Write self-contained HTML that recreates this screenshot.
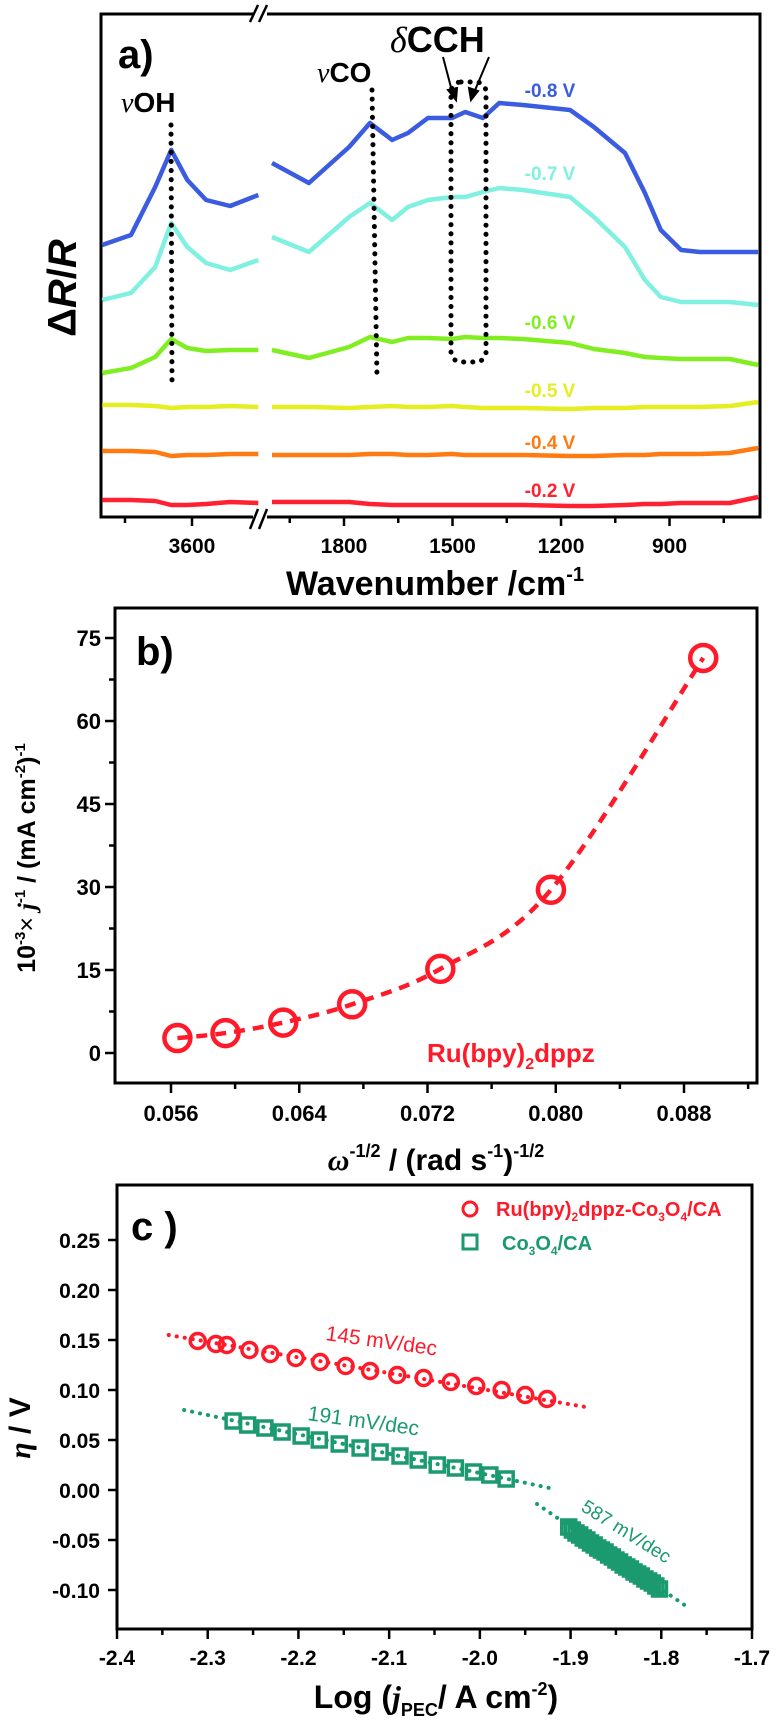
<!DOCTYPE html>
<html><head><meta charset="utf-8"><style>
html,body{margin:0;padding:0;background:#fff;}
svg{display:block;font-family:"Liberation Sans",sans-serif;font-weight:bold;}
.nar{font-family:"Liberation Sans Narrow","Liberation Sans",sans-serif;}
</style></head><body>
<svg id="fig" width="778" height="1720" viewBox="0 0 778 1720" xmlns="http://www.w3.org/2000/svg">
<g id="pa">
<rect x="101" y="14" width="659" height="503" fill="none" stroke="#000" stroke-width="3"/>
<rect x="253" y="8" width="14" height="12" fill="#fff"/>
<rect x="253" y="511" width="14" height="12" fill="#fff"/>
<g stroke="#000" stroke-width="2.5">
<line x1="250" y1="22" x2="258" y2="5"/><line x1="259" y1="22" x2="267" y2="5"/>
<line x1="250" y1="529" x2="258" y2="509"/><line x1="259" y1="529" x2="267" y2="509"/>
</g>
<g id="pa-ticks"></g>
<text x="118" y="68" font-size="40">a)</text>
<text x="65" y="288" font-size="40" text-anchor="middle" transform="rotate(-90 65 288)" dominant-baseline="middle">Δ<tspan font-style="italic">R</tspan>/<tspan font-style="italic">R</tspan></text>
<text x="435" y="595" font-size="34" text-anchor="middle" class="nar">Wavenumber /cm<tspan dy="-14" font-size="20">-1</tspan></text>
<text x="121" y="112" font-size="28"><tspan font-family="Liberation Serif" font-style="italic" font-weight="normal">ν</tspan>OH</text>
<text x="317" y="82" font-size="28"><tspan font-family="Liberation Serif" font-style="italic" font-weight="normal">ν</tspan>CO</text>
<text x="390" y="52" font-size="36"><tspan font-family="Liberation Serif" font-style="italic" font-weight="normal">δ</tspan>CCH</text>
<g id="pa-traces"></g>
<g fill="none" stroke="#000" stroke-width="5" stroke-dasharray="0.1 9" stroke-linecap="round">
<line x1="171" y1="125" x2="172" y2="380"/>
<line x1="372" y1="90" x2="377" y2="378"/>
<rect x="451" y="82" width="35" height="280" rx="10"/>
</g>
<g stroke="#000" stroke-width="2">
<line x1="443" y1="57" x2="453" y2="95"/><polygon points="448,90 456,100 457,88"/>
<line x1="489" y1="57" x2="473" y2="95"/><polygon points="469,88 471,100 478,91"/>
</g>
<g font-size="19" class="nar" text-anchor="middle">
<text x="550" y="97" fill="#3b5be0">-0.8 V</text>
<text x="550" y="180" fill="#80f0e0">-0.7 V</text>
<text x="550" y="329" fill="#80ee20">-0.6 V</text>
<text x="550" y="397" fill="#e5ee20">-0.5 V</text>
<text x="550" y="449" fill="#ff7a10">-0.4 V</text>
<text x="550" y="497" fill="#ff2030">-0.2 V</text>
</g>
</g>
<g id="pb">
<rect x="115" y="608" width="642" height="475" fill="none" stroke="#000" stroke-width="3"/>
<g id="pb-ticks"></g>
<text x="136" y="665" font-size="40">b)</text>
<text x="35" y="858" font-size="25" text-anchor="middle" transform="rotate(-90 35 858)">10<tspan dy="-10" font-size="15">-3</tspan><tspan dy="10" font-weight="normal">×</tspan> <tspan font-family="Liberation Serif" font-style="italic">j</tspan><tspan dy="-10" font-size="15">-1</tspan><tspan dy="10"> / (mA cm</tspan><tspan dy="-10" font-size="15">-2</tspan><tspan dy="10">)</tspan><tspan dy="-10" font-size="15">-1</tspan></text>
<text x="436" y="1170" font-size="30" text-anchor="middle" class="nar"><tspan font-family="Liberation Serif" font-style="italic">ω</tspan><tspan dy="-13" font-size="18">-1/2</tspan><tspan dy="13"> / (rad s</tspan><tspan dy="-13" font-size="18">-1</tspan><tspan dy="13">)</tspan><tspan dy="-13" font-size="18">-1/2</tspan></text>
<text x="427" y="1062" font-size="26" fill="#ff1a2a" class="nar">Ru(bpy)<tspan dy="7" font-size="16">2</tspan><tspan dy="-7">dppz</tspan></text>
<g id="pb-data"></g>
</g>
<g id="pc">
<rect x="117" y="1185" width="635" height="444" fill="none" stroke="#000" stroke-width="3"/>
<g id="pc-ticks"></g>
<text x="131" y="1240" font-size="40">c )</text>
<text x="30" y="1428" font-size="30" text-anchor="middle" transform="rotate(-90 30 1428)"><tspan font-family="Liberation Serif" font-style="italic">η</tspan> / V</text>
<text x="436" y="1708" font-size="32" text-anchor="middle" class="nar">Log (<tspan font-family="Liberation Serif" font-style="italic">j</tspan><tspan dy="8" font-size="18">PEC</tspan><tspan dy="-8">/ A cm</tspan><tspan dy="-13" font-size="18">-2</tspan><tspan dy="13">)</tspan></text>
<g>
<circle cx="470" cy="1209" r="7" fill="none" stroke="#ff1a2a" stroke-width="3"/>
<text x="496" y="1216" font-size="20" fill="#ff1a2a" class="nar">Ru(bpy)<tspan dy="5" font-size="12">2</tspan><tspan dy="-5">dppz-Co</tspan><tspan dy="5" font-size="12">3</tspan><tspan dy="-5">O</tspan><tspan dy="5" font-size="12">4</tspan><tspan dy="-5">/CA</tspan></text>
<rect x="463" y="1235" width="14" height="14" fill="none" stroke="#1a9a6e" stroke-width="3"/>
<text x="502" y="1250" font-size="20" fill="#1a9a6e" class="nar">Co<tspan dy="5" font-size="12">3</tspan><tspan dy="-5">O</tspan><tspan dy="5" font-size="12">4</tspan><tspan dy="-5">/CA</tspan></text>
</g>
<text x="325" y="1340" font-size="21" fill="#ff1a2a" class="nar" font-weight="normal" transform="rotate(8 325 1340)">145 mV/dec</text>
<text x="307" y="1420" font-size="21" fill="#1a9a6e" class="nar" font-weight="normal" transform="rotate(8 307 1420)">191 mV/dec</text>
<text x="580" y="1510" font-size="19" fill="#1a9a6e" class="nar" font-weight="normal" transform="rotate(32 580 1510)">587 mV/dec</text>
<g id="pc-data"></g>
</g>
</svg>
<script>
// ===== Panel a data =====
const aLeftW = [3734, 3691, 3655, 3631, 3607, 3579, 3543, 3501];
const aRightW = [1999, 1897, 1786, 1728, 1667, 1623, 1568, 1501, 1465, 1416, 1371, 1305, 1175, 1109, 1023, 968, 924, 868, 816, 733, 655];
const blueLeft = [272, 282, 330, 367, 337, 317, 311, 322];
const blueRight = [354, 334, 370, 394, 377, 384, 399, 399, 405, 399, 414, 412, 407, 390, 364, 324, 287, 267, 265, 265, 265];
const cyanLeft = [217, 224, 250, 294, 270, 254, 247, 257];
const cyanRight = [280, 265, 300, 314, 297, 310, 317, 320, 320, 325, 329, 327, 320, 300, 270, 237, 220, 215, 215, 215, 212];
const greenLeft = [144, 149, 160, 178, 169, 166, 167, 167];
const greenRight = [167, 159, 170, 180, 175, 179, 179, 178, 180, 179, 179, 178, 174, 168, 164, 160, 159, 158, 158, 158, 152];
const yellowLeft = [112, 112, 111, 109, 110, 110, 111, 110];
const yellowRight = [110, 110, 109, 110, 111, 110, 110, 111, 110, 109, 109, 109, 108, 109, 109, 110, 110, 110, 110, 111, 115];
const orangeLeft = [66, 66, 65, 61, 62, 62, 63, 63];
const orangeRight = [62, 62, 62, 63, 63, 62, 62, 63, 62, 62, 62, 62, 61, 61, 62, 62, 63, 63, 63, 64, 69];
const redLeft = [17, 17, 16, 12, 12, 13, 15, 14];
const redRight = [15, 15, 15, 13, 12, 12, 12, 12, 12, 12, 12, 12, 11, 11, 12, 13, 13, 14, 14, 14, 20];
const aMajorTicks = [3600, 1800, 1500, 1200, 900];
const aMinorTicks = [3700, 1950, 1650, 1350, 1050, 750];
// ===== Panel b data =====
const bX = [0.0564, 0.0594, 0.0630, 0.0673, 0.0728, 0.0797, 0.0892];
const bY = [2.7, 3.6, 5.5, 8.8, 15.2, 29.5, 71.4];
const bXTicks = [0.056, 0.064, 0.072, 0.080, 0.088];
const bXTickLabels = ["0.056", "0.064", "0.072", "0.080", "0.088"];
const bYTicks = [0, 15, 30, 45, 60, 75];
// ===== Panel c data =====
const cRuX = [-2.311, -2.291, -2.279, -2.254, -2.231, -2.203, -2.176, -2.148, -2.121, -2.091, -2.062, -2.032, -2.004, -1.976, -1.950, -1.926];
const cRuY = [0.149, 0.146, 0.145, 0.140, 0.136, 0.132, 0.128, 0.124, 0.119, 0.115, 0.112, 0.108, 0.104, 0.100, 0.095, 0.091];
const cRuFitX = [-2.343, -1.877];
const cRuFitY = [0.155, 0.082];
const cCoX = [-2.272, -2.256, -2.237, -2.218, -2.197, -2.177, -2.155, -2.132, -2.110, -2.088, -2.068, -2.047, -2.027, -2.007, -1.989, -1.971];
const cCoY = [0.069, 0.065, 0.062, 0.058, 0.054, 0.050, 0.046, 0.042, 0.038, 0.034, 0.030, 0.025, 0.022, 0.018, 0.015, 0.011];
const cCo2X = [-1.902, -1.898, -1.894, -1.890, -1.886, -1.882, -1.878, -1.874, -1.870, -1.866, -1.862, -1.858, -1.854, -1.850, -1.846, -1.842, -1.838, -1.834, -1.830, -1.826, -1.822, -1.818, -1.814, -1.810, -1.806, -1.802];
const cCo2Y = [-0.037, -0.040, -0.043, -0.045, -0.048, -0.050, -0.053, -0.055, -0.058, -0.060, -0.062, -0.065, -0.067, -0.070, -0.072, -0.075, -0.077, -0.079, -0.082, -0.084, -0.086, -0.089, -0.091, -0.093, -0.096, -0.099];
const cCoFitX = [-2.326, -1.918];
const cCoFitY = [0.080, 0.001];
const cCo2FitX = [-1.937, -1.768];
const cCo2FitY = [-0.014, -0.119];
const cXTicks = [-2.4, -2.3, -2.2, -2.1, -2.0, -1.9, -1.8, -1.7];
const cXTickLabels = ["-2.4", "-2.3", "-2.2", "-2.1", "-2.0", "-1.9", "-1.8", "-1.7"];
const cYTicks = [-0.10, -0.05, 0.00, 0.05, 0.10, 0.15, 0.20, 0.25];
const cYTickLabels = ["-0.10", "-0.05", "0.00", "0.05", "0.10", "0.15", "0.20", "0.25"];

const NS = "http://www.w3.org/2000/svg";
function mk(tag, attrs, parent) {
  const e = document.createElementNS(NS, tag);
  for (const k in attrs) e.setAttribute(k, attrs[k]);
  parent.appendChild(e);
  return e;
}
function xaL(w) { return 192 + (3600 - w) * 0.67; }
function xaR(w) { return 344 + (1800 - w) * 0.3617; }
function xa(w) { return w > 2500 ? xaL(w) : xaR(w); }
function ya(v) { return 517 - v; }
function xb(v) { return 171 + (v - 0.056) / 0.032 * 513; }
function yb(v) { return 1053 - v * 5.533; }
function xc(v) { return 117 + (v + 2.4) / 0.7 * 635; }
function yc(v) { return 1590 - (v + 0.10) * 1000; }

const paT = document.getElementById('pa-traces');
const traces = [
  ['trace-minus-0.2v', '#ff2030', redLeft, redRight],
  ['trace-minus-0.4v', '#ff7a10', orangeLeft, orangeRight],
  ['trace-minus-0.5v', '#e5ee20', yellowLeft, yellowRight],
  ['trace-minus-0.6v', '#80ee20', greenLeft, greenRight],
  ['trace-minus-0.7v', '#80f0e0', cyanLeft, cyanRight],
  ['trace-minus-0.8v', '#3b5be0', blueLeft, blueRight]
];
traces.forEach(t => {
  const d1 = aLeftW.map((w, i) => (i ? 'L' : 'M') + xaL(w).toFixed(1) + ' ' + ya(t[2][i]).toFixed(1)).join(' ');
  const p1 = mk('path', {d: d1, fill: 'none', stroke: t[1], 'stroke-width': 4.5, 'stroke-linejoin': 'round'}, paT);
  
  
  const d2 = aRightW.map((w, i) => (i ? 'L' : 'M') + xaR(w).toFixed(1) + ' ' + ya(t[3][i]).toFixed(1)).join(' ');
  const p2 = mk('path', {d: d2, fill: 'none', stroke: t[1], 'stroke-width': 4.5, 'stroke-linejoin': 'round'}, paT);
  
  
});
const paK = document.getElementById('pa-ticks');
aMajorTicks.forEach(w => {
  const x = xa(w);
  const l = mk('line', {x1: x, y1: 517, x2: x, y2: 526, stroke: '#000', 'stroke-width': 2.5}, paK);
  
  
  const t = mk('text', {x: x, y: 553, 'font-size': 21, 'text-anchor': 'middle', class: 'nar'}, paK);
  t.textContent = String(w);
  
  
});
aMinorTicks.forEach(w => {
  const x = xa(w);
  const l = mk('line', {x1: x, y1: 517, x2: x, y2: 523, stroke: '#000', 'stroke-width': 2.5}, paK);
  
  
});

const pbK = document.getElementById('pb-ticks');
bXTicks.forEach((v, i) => {
  const x = xb(v);
  const l = mk('line', {x1: x, y1: 1083, x2: x, y2: 1093, stroke: '#000', 'stroke-width': 2.5}, pbK);
  
  
  const t = mk('text', {x: x, y: 1121, 'font-size': 22, 'text-anchor': 'middle', class: 'nar'}, pbK);
  t.textContent = bXTickLabels[i];
  
  
  const xm = xb(v + 0.004);
  const m = mk('line', {x1: xm, y1: 1083, x2: xm, y2: 1089, stroke: '#000', 'stroke-width': 2.5}, pbK);
  
  
});
bYTicks.forEach(v => {
  const y = yb(v);
  const l = mk('line', {x1: 105, y1: y, x2: 115, y2: y, stroke: '#000', 'stroke-width': 2.5}, pbK);
  
  
  const t = mk('text', {x: 101, y: y + 8, 'font-size': 22, 'text-anchor': 'end', class: 'nar'}, pbK);
  t.textContent = String(v);
  
  
  const ym = yb(v + 7.5);
  if (ym > 610) {
    const m = mk('line', {x1: 109, y1: ym, x2: 115, y2: ym, stroke: '#000', 'stroke-width': 2.5}, pbK);
    
    
  }
});
const pbD = document.getElementById('pb-data');
const bp = bX.map((v, i) => [xb(v), yb(bY[i])]);
let bd = 'M' + bp[0][0] + ' ' + bp[0][1];
for (let i = 0; i < bp.length - 1; i++) {
  const p0 = bp[Math.max(0, i - 1)], p1 = bp[i], p2 = bp[i + 1], p3 = bp[Math.min(bp.length - 1, i + 2)];
  const c1 = [p1[0] + (p2[0] - p0[0]) / 6, p1[1] + (p2[1] - p0[1]) / 6];
  const c2 = [p2[0] - (p3[0] - p1[0]) / 6, p2[1] - (p3[1] - p1[1]) / 6];
  bd += ' C' + c1.join(' ') + ' ' + c2.join(' ') + ' ' + p2.join(' ');
}
const bl = mk('path', {d: bd, fill: 'none', stroke: '#ff1a2a', 'stroke-width': 4.5, 'stroke-dasharray': '11 8'}, pbD);


bp.forEach(p => {
  const c = mk('circle', {cx: p[0], cy: p[1], r: 13, fill: 'none', stroke: '#ff1a2a', 'stroke-width': 4.5}, pbD);
  
  
});

const pcK = document.getElementById('pc-ticks');
cXTicks.forEach((v, i) => {
  const x = xc(v);
  const l = mk('line', {x1: x, y1: 1629, x2: x, y2: 1639, stroke: '#000', 'stroke-width': 2.5}, pcK);
  
  
  const t = mk('text', {x: x, y: 1665, 'font-size': 21, 'text-anchor': 'middle', class: 'nar'}, pcK);
  t.textContent = cXTickLabels[i];
  
  
  if (i < cXTicks.length - 1) {
    const xm = xc(v + 0.05);
    const m = mk('line', {x1: xm, y1: 1629, x2: xm, y2: 1635, stroke: '#000', 'stroke-width': 2.5}, pcK);
    
    
  }
});
cYTicks.forEach((v, i) => {
  const y = yc(v);
  const l = mk('line', {x1: 108, y1: y, x2: 117, y2: y, stroke: '#000', 'stroke-width': 2.5}, pcK);
  
  
  const t = mk('text', {x: 100, y: y + 8, 'font-size': 21, 'text-anchor': 'end', class: 'nar'}, pcK);
  t.textContent = cYTickLabels[i];
  
  
});
const pcD = document.getElementById('pc-data');
function fit(xs, ys, col, name) {
  const l = mk('line', {x1: xc(xs[0]), y1: yc(ys[0]), x2: xc(xs[1]), y2: yc(ys[1]), stroke: col, 'stroke-width': 4, 'stroke-dasharray': '0.1 8', 'stroke-linecap': 'round'}, pcD);
  
  
}
fit(cRuFitX, cRuFitY, '#ff1a2a', 'fit-line-ru');
fit(cCoFitX, cCoFitY, '#1a9a6e', 'fit-line-co-low');
fit(cCo2FitX, cCo2FitY, '#1a9a6e', 'fit-line-co-high');
cRuX.forEach((v, i) => {
  const c = mk('circle', {cx: xc(v), cy: yc(cRuY[i]), r: 7.5, fill: 'none', stroke: '#ff1a2a', 'stroke-width': 3.5}, pcD);
  
  
});
cCoX.concat(cCo2X).forEach((v, i) => {
  const yv = i < cCoX.length ? cCoY[i] : cCo2Y[i - cCoX.length];
  const r = mk('rect', {x: xc(v) - 7, y: yc(yv) - 7, width: 14, height: 14, fill: 'none', stroke: '#1a9a6e', 'stroke-width': 3.5}, pcD);
  
  
});
</script>
</body></html>
